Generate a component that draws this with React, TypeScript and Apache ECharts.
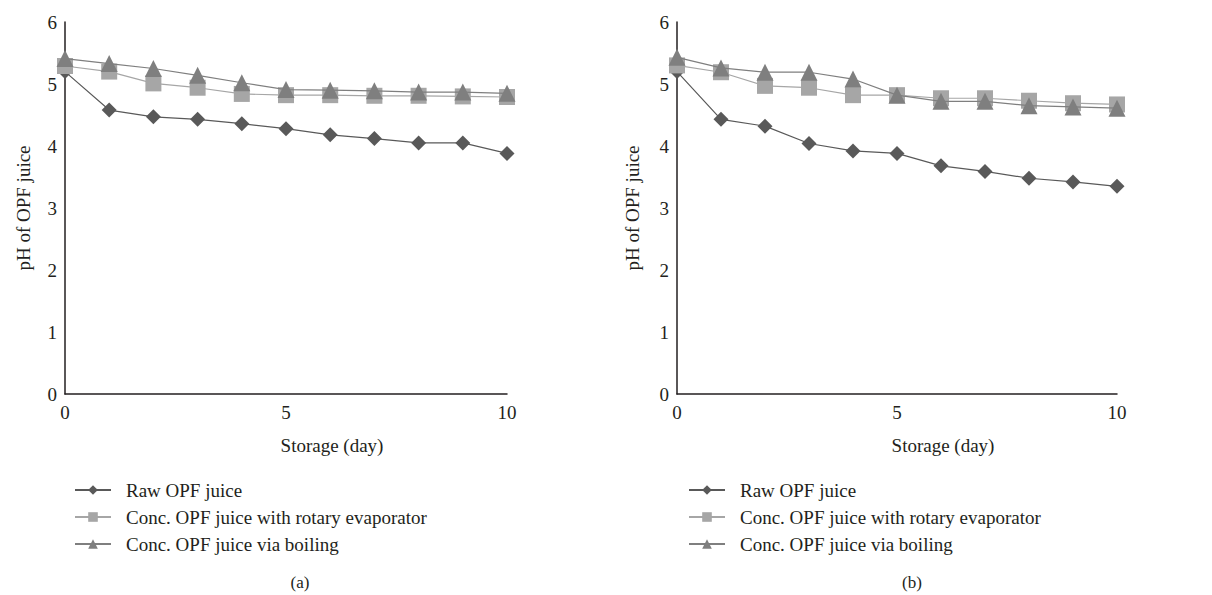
import React, { useEffect, useRef } from "react";
import * as echarts from "echarts";

const days = [0, 1, 2, 3, 4, 5, 6, 7, 8, 9, 10];
const seriesNames = [
  "Raw OPF juice",
  "Conc. OPF juice with rotary evaporator",
  "Conc. OPF juice via boiling",
];
const rawA = [5.2, 4.58, 4.47, 4.43, 4.36, 4.28, 4.18, 4.12, 4.05, 4.05, 3.88];
const rotaryA = [5.29, 5.2, 5.01, 4.94, 4.84, 4.82, 4.82, 4.81, 4.81, 4.8, 4.79];
const boilA = [5.41, 5.33, 5.25, 5.14, 5.02, 4.91, 4.9, 4.89, 4.87, 4.87, 4.85];
const rawB = [5.2, 4.43, 4.32, 4.04, 3.92, 3.88, 3.68, 3.59, 3.48, 3.42, 3.35];
const rotaryB = [5.3, 5.19, 4.97, 4.94, 4.82, 4.82, 4.77, 4.77, 4.73, 4.69, 4.67];
const boilB = [5.43, 5.26, 5.19, 5.19, 5.08, 4.82, 4.72, 4.72, 4.65, 4.63, 4.61];
const panelLabels = ["(a)", "(b)"];
const xTitle = "Storage (day)";
const yTitle = "pH of OPF juice";

const FONT = "'Liberation Serif', 'DejaVu Serif', serif";
const TXT = "#231f20";
const colors = ["#595959", "#a6a6a6", "#7f7f7f"];
const symbols = ["diamond", "rect", "triangle"];
const symbolSizes = [15, 16, 17];

export default function App() {
  const ref = useRef<HTMLDivElement>(null);
  useEffect(() => {
    if (!ref.current) return;
    const chart = echarts.init(ref.current, null, { renderer: "svg" });
    const grids = [
      { left: 65, top: 22, width: 442, height: 372 },
      { left: 677, top: 22, width: 440, height: 372 },
    ];
    const data = [
      [rawA, rotaryA, boilA],
      [rawB, rotaryB, boilB],
    ];
    const series: any[] = [];
    data.forEach((group, gi) => {
      group.forEach((vals, si) => {
        series.push({
          type: "line",
          name: seriesNames[si],
          xAxisIndex: gi,
          yAxisIndex: gi,
          data: days.map((d, i) => [d, vals[i]]),
          symbol: symbols[si],
          symbolSize: symbolSizes[si],
          itemStyle: { color: colors[si] },
          lineStyle: { color: colors[si], width: 1.2 },
          z: 2 + si,
        });
      });
    });
    const axisCommon = {
      axisLine: { show: true, lineStyle: { color: TXT, width: 1.5 } },
      axisTick: { show: false },
      splitLine: { show: false },
      axisLabel: { color: TXT, fontFamily: FONT, fontSize: 19 },
    };
    const legendCommon = {
      orient: "vertical",
      itemWidth: 36,
      itemHeight: 12,
      itemGap: 7,
      padding: 0,
      textStyle: {
        color: TXT,
        fontFamily: FONT,
        fontSize: 19,
        lineHeight: 20,
        padding: [0, 0, 0, 10],
      },
      data: seriesNames,
      selectedMode: false,
    };
    const graphics: any[] = [];
    const offsets = [0, 611];
    offsets.forEach((off, i) => {
      graphics.push({
        type: "text",
        x: 332 + off,
        y: 445,
        style: { text: xTitle, font: `19px ${FONT}`, fill: TXT, align: "center", verticalAlign: "middle" },
      });
      graphics.push({
        type: "text",
        x: 300 + off + (i === 1 ? 1 : 0),
        y: 582,
        style: { text: panelLabels[i], font: `17px ${FONT}`, fill: TXT, align: "center", verticalAlign: "middle" },
      });
      graphics.push({
        type: "text",
        x: 23 + off + (i === 1 ? -2 : 0),
        y: 208,
        rotation: Math.PI / 2,
        style: { text: yTitle, font: `19px ${FONT}`, fill: TXT, align: "center", verticalAlign: "middle" },
      });
    });
    chart.setOption({
      animation: false,
      backgroundColor: "#ffffff",
      grid: grids,
      xAxis: grids.map((_, i) => ({
        type: "value",
        gridIndex: i,
        min: 0,
        max: 10,
        interval: 5,
        ...axisCommon,
        axisLabel: { ...axisCommon.axisLabel, margin: 9 },
      })),
      yAxis: grids.map((_, i) => ({
        type: "value",
        gridIndex: i,
        min: 0,
        max: 6,
        interval: 1,
        ...axisCommon,
        axisLabel: { ...axisCommon.axisLabel, margin: 8 },
      })),
      legend: [
        { ...legendCommon, left: 74, top: 480 },
        { ...legendCommon, left: 688, top: 480 },
      ],
      series,
      graphic: graphics,
    });
    return () => chart.dispose();
  }, []);
  return (
    <div
      ref={ref}
      style={{ position: "fixed", left: 0, top: 0, width: 1212, height: 595 }}
    />
  );
}
